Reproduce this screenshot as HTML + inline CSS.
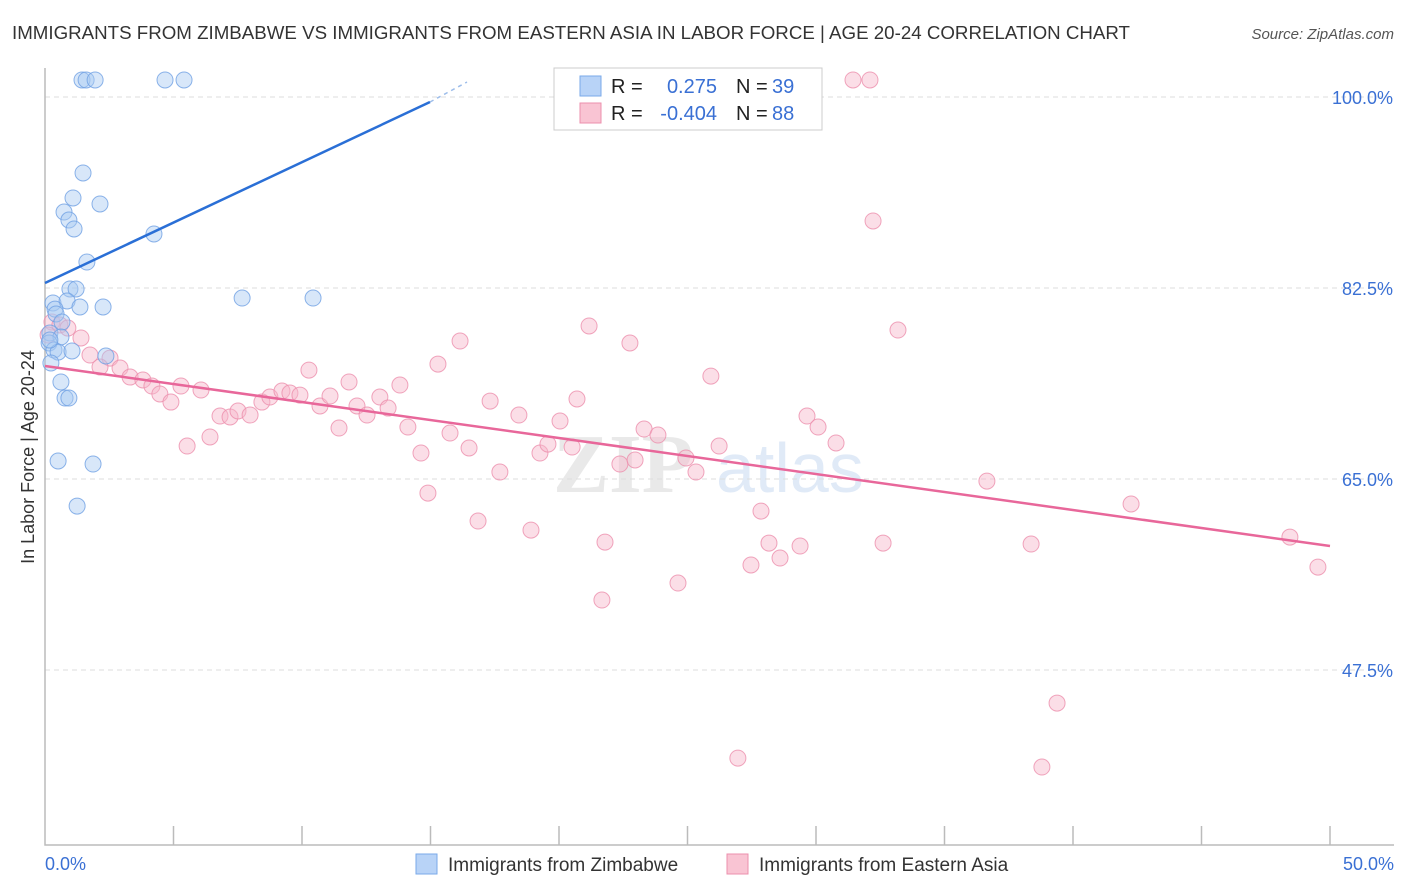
<!DOCTYPE html>
<html><head><meta charset="utf-8"><style>
body{margin:0;background:#fff;font-family:"Liberation Sans",sans-serif;}
svg{display:block}
</style></head><body>
<svg id="chart" width="1406" height="892" viewBox="0 0 1406 892" xmlns="http://www.w3.org/2000/svg" font-family="Liberation Sans, sans-serif">
<text x="12" y="39" font-size="18" fill="#333" textLength="1118" lengthAdjust="spacingAndGlyphs">IMMIGRANTS FROM ZIMBABWE VS IMMIGRANTS FROM EASTERN ASIA IN LABOR FORCE | AGE 20-24 CORRELATION CHART</text>
<text x="1394" y="39" font-size="15" fill="#555" text-anchor="end" font-style="italic">Source: ZipAtlas.com</text>
<g opacity="0.18">
<text x="553" y="492" font-size="84" font-family="Liberation Serif, serif" font-weight="bold" fill="#888">ZIP</text>
<text x="716" y="492" font-size="70" fill="#5b8fd6">atlas</text>
</g>
<g id="grid"></g>
<g id="axes"></g>
<g id="marks"></g>
<text transform="translate(34,457) rotate(-90)" font-size="18" fill="#333" text-anchor="middle">In Labor Force | Age 20-24</text>
<g>
<rect x="554" y="68" width="268" height="62" fill="#fff" stroke="#ccc"/>
<rect x="580" y="76" width="21" height="20" fill="#b8d3f7" stroke="#7aa9e8"/>
<rect x="580" y="103" width="21" height="20" fill="#f9c4d3" stroke="#ec8fac"/>
<text x="611" y="93" font-size="20" fill="#222">R =</text>
<text x="717" y="93" font-size="20" fill="#3a70d4" text-anchor="end">0.275</text>
<text x="736" y="93" font-size="20" fill="#222">N =</text>
<text x="772" y="93" font-size="20" fill="#3a70d4">39</text>
<text x="611" y="120" font-size="20" fill="#222">R =</text>
<text x="717" y="120" font-size="20" fill="#3a70d4" text-anchor="end">-0.404</text>
<text x="736" y="120" font-size="20" fill="#222">N =</text>
<text x="772" y="120" font-size="20" fill="#3a70d4">88</text>
</g>
<g>
<rect x="416" y="854" width="21" height="20" fill="#b8d3f7" stroke="#7aa9e8"/>
<text x="448" y="871" font-size="19" fill="#333">Immigrants from Zimbabwe</text>
<rect x="727" y="854" width="21" height="20" fill="#f9c4d3" stroke="#ec8fac"/>
<text x="759" y="871" font-size="19" fill="#333">Immigrants from Eastern Asia</text>
</g>
</svg>
<script>
const xTickLabels=["0.0%","50.0%"];
const yTicks=[100,82.5,65,47.5];
const yTickLabels=["100.0%","82.5%","65.0%","47.5%"];
const zimX=[1.44,1.60,1.95,4.67,5.41,1.48,1.09,2.14,0.74,0.93,1.13,4.24,1.63,0.97,1.21,0.31,0.86,0.39,1.36,2.26,7.67,10.43,0.43,0.66,0.19,0.62,0.16,0.35,0.51,1.05,2.37,0.23,0.62,0.78,0.93,0.51,1.87,1.25,0.19];
const zimY=[101.56,101.56,101.56,101.56,101.56,93.04,90.75,90.20,89.46,88.73,87.91,87.45,84.88,82.41,82.41,81.13,81.31,80.57,80.76,80.76,81.58,81.58,80.12,79.38,78.38,78.01,77.46,76.82,76.63,76.73,76.27,75.63,73.89,72.42,72.42,66.65,66.37,62.52,77.73];
const asiaX=[31.44,32.10,32.22,33.19,21.17,22.76,16.15,15.29,0.27,0.58,0.89,0.12,1.40,1.75,2.53,2.14,2.92,3.31,3.81,4.16,4.47,4.90,5.29,6.07,5.53,6.42,6.81,7.20,7.51,7.98,8.44,8.75,9.22,9.53,9.92,10.27,10.70,11.09,11.44,11.83,12.14,12.53,13.03,13.35,13.81,14.12,14.63,14.90,15.76,16.50,16.85,17.32,17.70,18.44,18.91,19.26,19.57,20.04,20.51,20.70,21.79,21.67,22.37,22.96,23.31,23.85,24.63,24.94,25.33,25.91,26.23,27.47,27.86,28.17,28.60,29.38,29.65,30.08,30.78,32.61,36.65,38.37,39.38,38.79,26.96,42.26,48.44,49.53];
const asiaY=[101.56,101.56,88.64,78.65,79.02,77.46,77.64,75.53,79.38,79.11,78.83,78.19,77.92,76.36,76.08,75.26,75.17,74.34,74.07,73.52,72.79,72.05,73.52,73.15,68.02,68.85,70.77,70.68,71.23,70.86,72.05,72.51,73.06,72.88,72.69,74.98,71.69,72.60,69.67,73.89,71.69,70.86,72.51,71.50,73.61,69.76,67.38,63.71,69.21,67.84,61.15,72.14,65.64,70.86,60.32,67.38,68.20,70.31,67.93,72.33,59.22,53.91,66.37,66.74,69.58,69.03,55.47,66.92,65.64,74.43,68.02,57.12,62.06,59.13,57.76,58.86,70.77,69.76,68.30,59.13,64.81,59.04,44.47,38.61,39.43,62.71,59.68,56.93];
const zimTrend=[[0,82.96],[14.98,99.54],[16.42,101.37]];
const asiaTrend=[[0,75.35],[50,58.86]];
const NS="http://www.w3.org/2000/svg";
const X=v=>45+v*1285/50;
const Y=v=>97+(100-v)*191/17.5;
function mk(p,t,a){const e=document.createElementNS(NS,t);for(const k in a)e.setAttribute(k,a[k]);p.appendChild(e);return e;}
const grid=document.getElementById('grid'),axes=document.getElementById('axes'),marks=document.getElementById('marks');
yTicks.forEach((t,i)=>{
 const l=mk(grid,'line',{x1:45,x2:1394,y1:Y(t),y2:Y(t),stroke:'#ddd','stroke-dasharray':'5,4'});
 
 
 const tx=mk(axes,'text',{x:1393,y:Y(t)+7,'font-size':18,fill:'#3a70d4','text-anchor':'end'});
 tx.textContent=yTickLabels[i];
 
 
});
const ax=mk(axes,'path',{d:`M45 68 V845 H1394`,stroke:'#bbb',fill:'none','stroke-width':1.5});


for(let i=1;i<=10;i++){
 const t=mk(axes,'line',{x1:X(i*5),x2:X(i*5),y1:826,y2:845,stroke:'#bbb','stroke-width':1.5});
 
 
}
[[0,'start'],[50,'end']].forEach((d,i)=>{
 const t=mk(axes,'text',{x:i?1394:45,y:870,'font-size':18,fill:'#3a70d4','text-anchor':d[1]});
 t.textContent=xTickLabels[i];
 
 
});
function pts(xs,ys,fill,stroke,name){
 xs.forEach((x,i)=>{
  const c=mk(marks,'circle',{cx:X(x),cy:Y(ys[i]),r:8,fill:fill,'fill-opacity':0.45,stroke:stroke,'stroke-opacity':0.8,'stroke-width':1});
  
  
 });
}
pts(asiaX,asiaY,'#f7b6c9','#ec8fac','point-eastern-asia');
pts(zimX,zimY,'#a9c9f2','#6fa0e4','point-zimbabwe');
const zl=mk(marks,'line',{x1:X(zimTrend[0][0]),y1:Y(zimTrend[0][1]),x2:X(zimTrend[1][0]),y2:Y(zimTrend[1][1]),stroke:'#2a6fd6','stroke-width':2.5});


const zd=mk(marks,'line',{x1:X(zimTrend[1][0]),y1:Y(zimTrend[1][1]),x2:X(zimTrend[2][0]),y2:Y(zimTrend[2][1]),stroke:'#9dbdea','stroke-width':1.5,'stroke-dasharray':'4,4'});


const al=mk(marks,'line',{x1:X(asiaTrend[0][0]),y1:Y(asiaTrend[0][1]),x2:X(asiaTrend[1][0]),y2:Y(asiaTrend[1][1]),stroke:'#e8679a','stroke-width':2.5});


</script>
</body></html>
